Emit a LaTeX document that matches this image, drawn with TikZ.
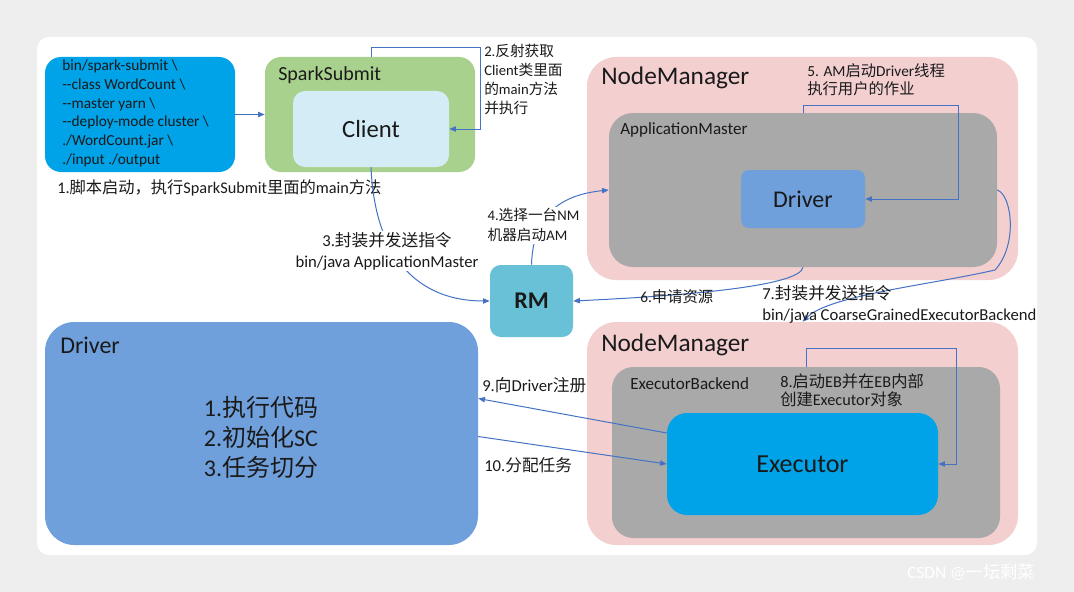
\documentclass[tikz,border=0pt]{standalone}
\usepackage{fontspec}
\setmainfont{Carlito}
\newfontfamily\cjk{Noto Sans CJK SC}
\newcommand{\zhtext}[1]{{\cjk #1}}
\usetikzlibrary{fit,calc,arrows.meta}
\definecolor{pagebg}{HTML}{EEEEEE}
\definecolor{cmdblue}{HTML}{00A2E8}
\definecolor{submitgreen}{HTML}{A9D18E}
\definecolor{clientblue}{HTML}{D3ECF5}
\definecolor{rmcyan}{HTML}{68C1D6}
\definecolor{nmpink}{HTML}{F3CFD0}
\definecolor{amgray}{HTML}{A9A9A9}
\definecolor{driverblue}{HTML}{6FA0DC}
\definecolor{flowblue}{HTML}{4472C4}
\definecolor{textdark}{HTML}{1A1A1A}

\tikzset{
  box/.style={rectangle,inner sep=0pt},
  boxtext/.style={inner sep=0pt,text=textdark},
  flow/.style={-{Triangle[length=5pt,width=4pt]},flowblue,line width=0.75pt},
  note/.style={inner sep=0pt,anchor=west,align=left,text=textdark,font=\fontsize{12.5}{15}\selectfont},
  boxtitle/.style={inner sep=0pt,anchor=west,text=textdark}
}

\begin{document}
\begin{tikzpicture}[x=0.75pt,y=-0.75pt]
    \useasboundingbox (0,0) rectangle (1074,592);
    % page and card
    \fill[pagebg] (0,0) rectangle (1074,592);
    \fill[white,rounded corners=9pt] (37,37) rectangle (1037,555);

    % spark-submit command
    \node (cmd) [box,fill=cmdblue,rounded corners=12pt,fit={(45,57) (235,172)}] {};
    \node [note,anchor=north west,font=\fontsize{11.5}{14}\selectfont] at (62,60)
      {bin/spark-submit \textbackslash\\-{}-class WordCount \textbackslash\\-{}-master yarn \textbackslash\\-{}-deploy-mode cluster \textbackslash\\./WordCount.jar \textbackslash\\./input ./output};
    \node [note,font=\fontsize{12.2}{14}\selectfont] at (57,188)
      {1.\zhtext{脚本启动，执行}SparkSubmit\zhtext{里面的}main\zhtext{方法}};

    % SparkSubmit / Client
    \node (ss) [box,fill=submitgreen,rounded corners=12pt,fit={(265,57) (475,172)}] {};
    \node [boxtitle,font=\fontsize{15}{18}\selectfont] at (278,75) {SparkSubmit};
    \node (client) [box,fill=clientblue,rounded corners=9pt,fit={(293,91) (449,167)}] {};
    \node [boxtext,font=\fontsize{18.5}{22}\selectfont] at (client) {Client};

    % RM
    \node (rm) [box,fill=rmcyan,rounded corners=8pt,fit={(490,265) (573,337)}] {};
    \node [boxtext,font=\fontsize{18}{22}\selectfont\bfseries] at (rm) {RM};

    % NodeManager with ApplicationMaster
    \node (nm1) [box,fill=nmpink,rounded corners=22pt,fit={(587,57) (1018,280)}] {};
    \node [boxtitle,font=\fontsize{19}{22}\selectfont] at (601,78) {NodeManager};
    \node (am) [box,fill=amgray,rounded corners=18pt,fit={(609,113) (997,267)}] {};
    \node [boxtitle,font=\fontsize{12.8}{15}\selectfont] at (620,130) {ApplicationMaster};
    \node (amdrv) [box,fill=driverblue,rounded corners=6pt,fit={(741,170) (865,228)}] {};
    \node [boxtext,font=\fontsize{18}{22}\selectfont] at (amdrv) {Driver};

    % NodeManager with ExecutorBackend
    \node (nm2) [box,fill=nmpink,rounded corners=22pt,fit={(587,322) (1018,545)}] {};
    \node [boxtitle,font=\fontsize{19}{22}\selectfont] at (601,345) {NodeManager};
    \node (eb) [box,fill=amgray,rounded corners=16pt,fit={(612,367) (1000,538)}] {};
    \node [boxtitle,font=\fontsize{12.8}{15}\selectfont] at (630,384) {ExecutorBackend};
    \node (exec) [box,fill=cmdblue,rounded corners=15pt,fit={(667,413) (938,515)}] {};
    \node [boxtext,font=\fontsize{19.5}{22}\selectfont] at (exec) {Executor};

    % Driver (cluster side)
    \node (drv) [box,fill=driverblue,rounded corners=22pt,fit={(45,322) (478,545)}] {};
    \node [boxtitle,font=\fontsize{18}{22}\selectfont] at (60,345) {Driver};
    \node [boxtext,align=left,font=\fontsize{18}{22.5}\selectfont] at (261,437)
      {1.\zhtext{执行代码}\\2.\zhtext{初始化}SC\\3.\zhtext{任务切分}};

    % 1 -> SparkSubmit
    \draw[flow] (cmd) -- (ss);

    % 2
    \coordinate (c2) at (480,48);
    \draw[flow] (client.north |- ss.north) |- (c2) |- (client.east);
    \node [note,anchor=north west,font=\fontsize{11}{14.25}\selectfont] at (484,44)
      {2.\zhtext{反射获取}\\Client\zhtext{类里面}\\\zhtext{的}main\zhtext{方法}\\\zhtext{并执行}};

    % 3
    \draw[flow] (client.south) .. controls (375,260) and (420,301) .. (rm.west);
    \node [note,align=center,anchor=center,fill=white,inner sep=1pt,font=\fontsize{12.5}{15.75}\selectfont] at (387,251)
      {3.\zhtext{封装并发送指令}\\bin/java ApplicationMaster};

    % 4
    \draw[flow] (rm.north) .. controls (533,215) and (560,195) .. (am.west);
    \node [note,anchor=north west,fill=white,inner sep=1pt,font=\fontsize{11}{15}\selectfont] at (486,207)
      {4.\zhtext{选择一台}NM\\\zhtext{机器启动}AM};

    % 5
    \coordinate (c5) at (958,105);
    \draw[flow] (am.north) |- (c5) |- (amdrv.east);
    \node [note,anchor=north west,font=\fontsize{11.5}{13.5}\selectfont] at (807,63)
      {5. AM\zhtext{启动}Driver\zhtext{线程}\\\zhtext{执行用户的作业}};

    % 6
    \draw[flow] (am.south) .. controls (800,285) and (700,295) .. (rm.east);
    \node [note,font=\fontsize{11.5}{14}\selectfont] at (640,297) {6.\zhtext{申请资源}};

    % 7
    \draw[flow] (am.east) .. controls (1012,195) and (1018,245) .. (995,270)
      .. controls (930,285) and (830,295) .. (nm2.north);
    \begin{scope}
      \clip[rounded corners=9pt] (37,37) rectangle (1037,555);
      \node [note,anchor=north west,font=\fontsize{12.5}{15.75}\selectfont] at (762,285)
        {7.\zhtext{封装并发送指令}\\bin/java CoarseGrainedExecutorBackend};
    \end{scope}

    % 8
    \coordinate (c8) at (956,348);
    \draw[flow] (eb.north) |- (c8) |- (exec.east);
    \node [note,anchor=north west,font=\fontsize{12.2}{13.5}\selectfont] at (780,374)
      {8.\zhtext{启动}EB\zhtext{并在}EB\zhtext{内部}\\\zhtext{创建}Executor\zhtext{对象}};

    % 9 and 10
    \draw[flow] ($(exec.west)+(0,-31)$) -- ($(drv.east)+(0,-35)$);
    \node [note] at (482,385) {9.\zhtext{向}Driver\zhtext{注册}};
    \draw[flow] ($(drv.east)+(0,3)$) -- (exec.west);
    \node [note] at (484,465) {10.\zhtext{分配任务}};

    % watermark
    \node [boxtitle,text=white,font=\fontsize{13}{15}\selectfont] at (907,572) {CSDN @\zhtext{一坛剩菜}};
\end{tikzpicture}
\end{document}
